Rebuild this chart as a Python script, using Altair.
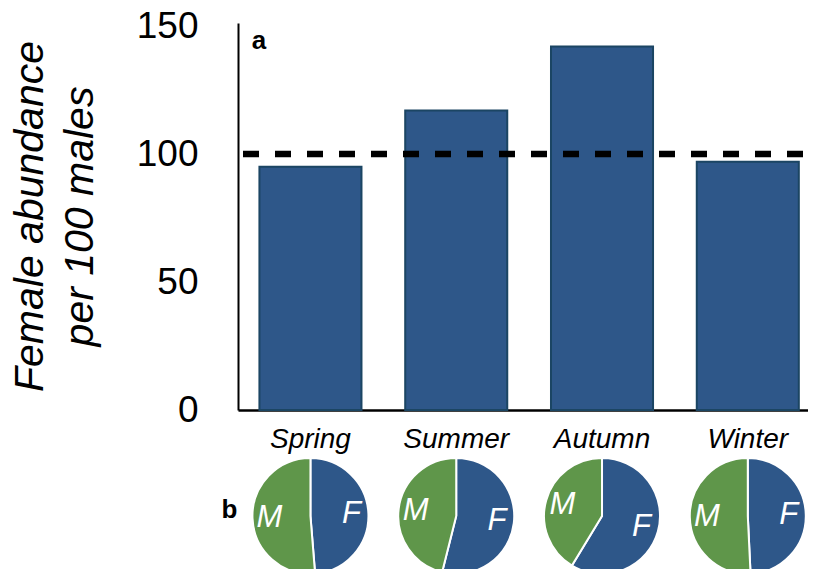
import math
import altair as alt
import pandas as pd

# ---- data ----
seasons = ["Spring", "Summer", "Autumn", "Winter"]
female_per_100_males = [95, 117, 142, 97]
parity_level = [100]
y_ticks = [0, 50, 100, 150]
sexes = ["F", "M"]

BLUE = "#2E5789"
GREEN = "#5F964A"
EDGE = "#1B4563"
FONT = "Liberation Sans"

bars = pd.DataFrame({"season": seasons, "value": female_per_100_males})

# pie slices: share of females = F / (F + 100 M); F slice starts at 12 o'clock
rows = []
for s, v in zip(seasons, female_per_100_males):
    f = v / (v + parity_level[0])
    rows.append({"season": s, "sex": "F", "t0": 0.0, "t1": f, "mid": f / 2})
    rows.append({"season": s, "sex": "M", "t0": f, "t1": 1.0, "mid": f + (1 - f) / 2})
pies = pd.DataFrame(rows)

x_enc = alt.X(
    "season:N",
    sort=seasons,
    bandPosition=0.5,
    scale=alt.Scale(paddingInner=0.30, paddingOuter=0.105, align=0.7),
    axis=alt.Axis(
        title=None, labelAngle=0, labelFontSize=28, labelFontStyle="italic",
        labelFont=FONT, labelColor="black", labelPadding=15, ticks=False,
        domainColor="black", domainWidth=2.5, grid=False,
    ),
)

theta_scale = alt.Scale(domain=[0, 1], range=[0, 2 * math.pi])

bar_layer = alt.Chart(bars).mark_bar(
    color=BLUE, stroke=EDGE, strokeWidth=2
).encode(
    x=x_enc,
    y=alt.Y(
        "value:Q",
        scale=alt.Scale(domain=[0, 151.2], nice=False),
        axis=alt.Axis(
            values=y_ticks, ticks=False, grid=False, labelFontSize=37,
            labelFont=FONT, labelColor="black", labelPadding=40,
            domainColor="black", domainWidth=2,
            title=["Female abundance", "per 100 males"],
            titleFont=FONT, titleFontSize=41, titleFontStyle="italic",
            titleFontWeight="normal", titleColor="black",
            titleAngle=-90, titleBaseline="alphabetic", titleLineHeight=50,
            titleX=-196, titleY=193, titleAlign="center",
        ),
    ),
)

rule_layer = alt.Chart(pd.DataFrame({"level": parity_level})).mark_rule(
    color="black", strokeWidth=6.5, strokeDash=[16, 16], strokeDashOffset=27
).encode(y="level:Q")

pie_layer = alt.Chart(pies).mark_arc(
    radius=58, stroke="white", strokeWidth=2
).encode(
    x=alt.X("season:N", sort=seasons, bandPosition=0.5),
    y=alt.value(493),
    theta=alt.Theta("t0:Q", scale=theta_scale),
    theta2="t1:Q",
    color=alt.Color("sex:N", scale=alt.Scale(domain=sexes, range=[BLUE, GREEN]), legend=None),
)

pie_text = alt.Chart(pies).mark_text(
    radius=41, color="white", fontSize=31, fontStyle="italic", font=FONT,
    align="center", baseline="middle",
).encode(
    x=alt.X("season:N", sort=seasons, bandPosition=0.5),
    y=alt.value(493),
    theta=alt.Theta("mid:Q", scale=theta_scale),
    text="sex:N",
)

label_a = alt.Chart(pd.DataFrame({"lab": ["a"]})).mark_text(
    fontSize=26, fontWeight="bold", font=FONT, color="black",
    align="center", baseline="middle",
).encode(x=alt.value(21), y=alt.value(18), text="lab:N")

label_b = alt.Chart(pd.DataFrame({"lab": ["b"]})).mark_text(
    fontSize=26, fontWeight="bold", font=FONT, color="black",
    align="center", baseline="middle",
).encode(x=alt.value(-8.5), y=alt.value(487), text="lab:N")

chart = alt.layer(
    bar_layer, rule_layer, pie_layer, pie_text, label_a, label_b
).properties(
    width=570, height=387,
    background="white",
    autosize=alt.AutoSizeParams(type="none"),
    padding={"left": 230, "top": 15, "right": 0, "bottom": 159},
).configure_view(strokeWidth=0, stroke="transparent")

chart.save("out.html", embed_options={"renderer": "svg", "actions": False})
